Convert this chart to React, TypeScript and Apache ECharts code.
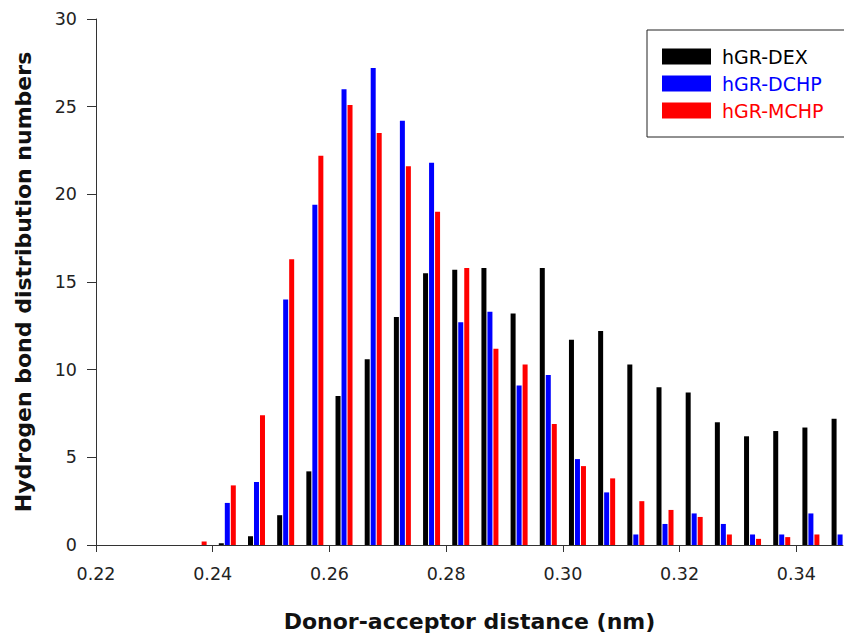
import React, { useEffect, useRef } from "react";
import * as echarts from "echarts";

// Bin centres (nm)
const bins = [
  0.2375, 0.2425, 0.2475, 0.2525, 0.2575, 0.2625, 0.2675, 0.2725, 0.2775, 0.2825, 0.2875, 0.2925,
  0.2975, 0.3025, 0.3075, 0.3125, 0.3175, 0.3225, 0.3275, 0.3325, 0.3375, 0.3425, 0.3475,
];
const dexValues = [
  0, 0.1, 0.5, 1.7, 4.2, 8.5, 10.6, 13.0, 15.5, 15.7, 15.8, 13.2,
  15.8, 11.7, 12.2, 10.3, 9.0, 8.7, 7.0, 6.2, 6.5, 6.7, 7.2,
];
const dchpValues = [
  0, 2.4, 3.6, 14.0, 19.4, 26.0, 27.2, 24.2, 21.8, 12.7, 13.3, 9.1,
  9.7, 4.9, 3.0, 0.6, 1.2, 1.8, 1.2, 0.6, 0.6, 1.8, 0.6,
];
const mchpValues = [
  0.2, 3.4, 7.4, 16.3, 22.2, 25.1, 23.5, 21.6, 19.0, 15.8, 11.2, 10.3,
  6.9, 4.5, 3.8, 2.5, 2.0, 1.6, 0.6, 0.35, 0.45, 0.6, 0.6,
];
const seriesNames = ["hGR-DEX", "hGR-DCHP", "hGR-MCHP"];
const seriesColors = ["#000000", "#0000ff", "#ff0000"];
const xTitle = "Donor-acceptor distance (nm)";
const yTitle = "Hydrogen bond distribution numbers";

const FONT = "DejaVu Sans";
const BAR_W = 5;
const BAR_STEP = 6;

export default function App() {
  const ref = useRef<HTMLDivElement>(null);
  useEffect(() => {
    if (!ref.current) return;
    const chart = echarts.init(ref.current, null, { renderer: "svg" });
    const allValues = [dexValues, dchpValues, mchpValues];
    chart.setOption({
      animation: false,
      backgroundColor: "#ffffff",
      grid: { left: 96, right: 1, top: 19, bottom: 87, containLabel: false },
      legend: {
        left: 647,
        top: 30,
        orient: "vertical",
        icon: "rect",
        itemWidth: 49,
        itemHeight: 16,
        itemGap: 8,
        padding: [17, 110, 17, 15],
        borderColor: "#222",
        borderWidth: 1,
        backgroundColor: "#fff",
        textStyle: { fontFamily: FONT, fontSize: 19, padding: [0, 0, 0, 6] },
        data: seriesNames.map((n, i) => ({ name: n, textStyle: { color: seriesColors[i] } })),
      },
      xAxis: {
        type: "value",
        min: 0.22,
        max: 0.348,
        interval: 0.02,
        splitLine: { show: false },
        axisLine: { onZero: false, lineStyle: { color: "#333", width: 1 } },
        axisTick: { show: true, length: 7, lineStyle: { color: "#333" } },
        axisLabel: {
          margin: 20,
          fontFamily: FONT,
          fontSize: 17.5,
          color: "#222",
          showMaxLabel: false,
          formatter: (v: number) => v.toFixed(2),
        },
        name: xTitle,
        nameLocation: "middle",
        nameGap: 65,
        nameTextStyle: { fontFamily: FONT, fontSize: 22, fontWeight: "bold", color: "#111" },
      },
      yAxis: {
        type: "value",
        min: 0,
        max: 30,
        interval: 5,
        splitLine: { show: false },
        axisLine: { show: true, lineStyle: { color: "#333", width: 1 } },
        axisTick: { show: true, length: 9, lineStyle: { color: "#333" } },
        axisLabel: { margin: 19, fontFamily: FONT, fontSize: 17.5, color: "#222" },
        name: yTitle,
        nameLocation: "middle",
        nameGap: 62,
        nameTextStyle: { fontFamily: FONT, fontSize: 22, fontWeight: "bold", color: "#111" },
      },
      series: seriesNames.map((n, i) => ({
        name: n,
        type: "custom",
        clip: true,
        itemStyle: { color: seriesColors[i] },
        encode: { x: 0, y: 1 },
        data: bins.map((b, j) => [b, allValues[i][j]]),
        renderItem: (params: any, api: any) => {
          const x = api.value(0);
          const y = api.value(1);
          const top = api.coord([x, y]);
          const base = api.coord([x, 0]);
          const cx = top[0] + (i - 1) * BAR_STEP;
          const rect = {
            x: cx - BAR_W / 2,
            y: top[1],
            width: BAR_W,
            height: base[1] - top[1],
          };
          const clipped = echarts.graphic.clipRectByRect(rect, {
            x: params.coordSys.x,
            y: params.coordSys.y,
            width: params.coordSys.width,
            height: params.coordSys.height,
          });
          if (!clipped) return null;
          return {
            type: "rect",
            shape: clipped,
            style: { fill: seriesColors[i] },
          };
        },
      })),
    });
    return () => chart.dispose();
  }, []);
  return <div ref={ref} style={{ width: 844, height: 637, position: "absolute", left: 0, top: 0 }} />;
}
